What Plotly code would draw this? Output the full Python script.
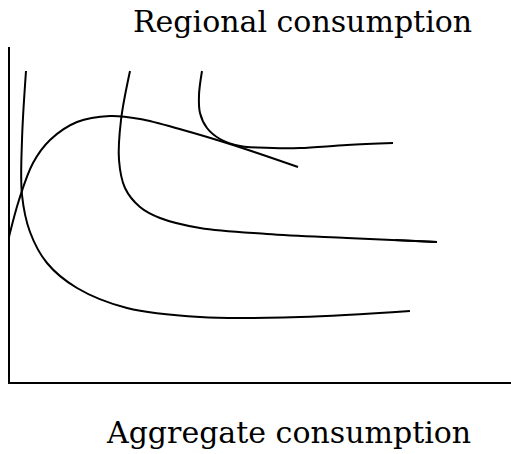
import plotly.graph_objects as go

# Curves (x right, y up, in plot units)
curve_a_x = [16, 12, 12, 20, 37, 67, 117, 190, 290, 400]
curve_a_y = [311, 242, 187, 150, 119, 94, 74, 65, 65, 71]

curve_b_x = [120, 111, 109, 115, 130, 150, 190, 257, 337, 427]
curve_b_y = [311, 262, 222, 194, 175, 164, 154, 148, 144, 140]

curve_b_tail_x = [385, 427]
curve_b_tail_y = [142, 140]

curve_c_x = [-1, 9, 23, 40, 67, 100, 130, 173, 223, 288]
curve_c_y = [145, 182, 219, 242, 260, 266, 263, 252, 237, 215]

curve_d_x = [192, 189, 190, 197, 210, 230, 263, 290, 337, 383]
curve_d_y = [311, 287, 269, 254, 243, 236, 234, 234, 237, 239]

fig = go.Figure()
for xs, ys in [(curve_a_x, curve_a_y), (curve_b_x, curve_b_y), (curve_b_tail_x, curve_b_tail_y),
               (curve_c_x, curve_c_y), (curve_d_x, curve_d_y)]:
    fig.add_trace(go.Scatter(x=xs, y=ys, mode="lines",
                             line=dict(color="black", width=2, shape="spline", smoothing=1.0),
                             hoverinfo="skip", showlegend=False, cliponaxis=False))

fig.update_layout(
    width=511, height=454,
    margin=dict(l=10, r=0, t=47, b=72),
    paper_bgcolor="white", plot_bgcolor="white",
    xaxis=dict(range=[0, 501], showgrid=False, zeroline=False, showticklabels=False,
               ticks="", showline=True, linecolor="black", linewidth=2, fixedrange=True),
    yaxis=dict(range=[0, 335], showgrid=False, zeroline=False, showticklabels=False,
               ticks="", showline=True, linecolor="black", linewidth=2, fixedrange=True),
    font=dict(family="DejaVu Serif", color="black"),
    annotations=[
        dict(text="Regional consumption", x=292.5 / 501, y=361 / 335, xref="paper", yref="paper",
             showarrow=False, font=dict(size=30, family="DejaVu Serif", color="black"),
             xanchor="center", yanchor="middle"),
        dict(text="Aggregate consumption", x=278.5 / 501, y=-50 / 335, xref="paper", yref="paper",
             showarrow=False, font=dict(size=30, family="DejaVu Serif", color="black"),
             xanchor="center", yanchor="middle"),
    ],
)

fig.write_html(
    "out.html",
    config={"displayModeBar": False},
    post_script="document.body.style.margin='0';document.body.style.overflow='hidden';",
)
